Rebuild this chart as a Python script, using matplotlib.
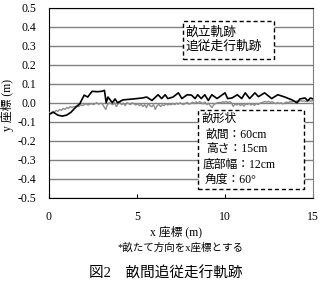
import numpy as np
import matplotlib
matplotlib.use("Agg")
import matplotlib.pyplot as plt
from matplotlib.patches import Rectangle

plt.rcParams['font.family'] = ['Liberation Serif', 'Noto Sans CJK JP']
plt.rcParams['axes.unicode_minus'] = False

# 畝立軌跡 (black)
ridge_x = [0.0, 0.25, 0.5, 0.75, 1.0, 1.25, 1.5, 1.75, 2.0, 2.2, 2.45, 2.75, 3.0, 3.15, 3.25,
           3.35, 3.6, 3.75, 3.9, 4.2, 4.8, 5.3, 5.55, 5.85, 6.2, 6.4, 6.6, 6.75, 7.05, 7.35,
           7.55, 7.85, 8.1, 8.3, 8.45, 8.65, 8.85, 9.05, 9.25, 9.55, 9.85, 10.0, 10.15, 10.4,
           10.7, 10.95, 11.15, 11.4, 11.7, 11.9, 12.25, 12.65, 13.0, 13.4, 13.8, 14.1, 14.25,
           14.55, 14.7, 14.85, 15.0]
ridge_y = [-0.06, -0.05, -0.065, -0.07, -0.065, -0.05, -0.025, -0.005, 0.04, 0.03, 0.06, 0.058,
           0.06, 0.065, 0.0, 0.03, 0.0, 0.02, 0.0, 0.015, 0.02, 0.025, 0.03, 0.012, 0.042, 0.022,
           0.042, 0.022, 0.03, 0.052, 0.022, 0.042, 0.04, 0.022, 0.042, 0.022, 0.042, 0.012, 0.042,
           0.022, 0.042, 0.052, 0.022, 0.025, 0.042, 0.022, 0.052, 0.022, 0.052, 0.032, 0.052, 0.022,
           0.042, 0.03, 0.015, 0.0, 0.02, 0.025, 0.01, 0.025, 0.02]

# 追従走行軌跡 (grey)
follow_y = [-0.05, -0.06, -0.045, -0.05, -0.04,
            -0.045, -0.035, -0.04, -0.03, -0.035, -0.025, -0.03, -0.02, -0.025, -0.02,
            -0.02, -0.015, -0.02, -0.01, -0.015, -0.01, -0.005, -0.012, -0.008, -0.004,
            -0.01, -0.005, 0.0, -0.008, -0.003,
            -0.005, -0.02, -0.035, -0.01, 0.0,
            -0.005, -0.01, 0.0, -0.02, -0.005, 0.002, -0.01, -0.003, -0.015, 0.0,
            -0.005, -0.01, 0.0, -0.006, -0.012,
            -0.005, -0.015, -0.008, -0.02, -0.01, -0.025, -0.005, -0.015, -0.02, -0.01,
            -0.035, -0.015, -0.008, -0.02, -0.01, -0.015, -0.005, -0.012, -0.008, -0.01,
            -0.005, -0.01, -0.002, -0.008, 0.0, -0.006, -0.01, -0.003, 0.002, -0.008,
            -0.004, 0.003, -0.005, 0.005, -0.002, 0.006, 0.0, -0.006, 0.004, -0.01,
            -0.002, -0.015, -0.025, -0.01, -0.005,
            0.0, 0.002, 0.0, 0.005, 0.003, 0.006, 0.002, 0.005, 0.0, -0.02,
            -0.005, -0.012, -0.004, -0.015, -0.006, -0.018, -0.005, -0.01, -0.003, -0.012,
            -0.006, -0.014, -0.004, -0.01, -0.002,
            0.0, 0.004, 0.006, 0.003, 0.007, 0.002, 0.005, 0.0, -0.005, 0.002,
            -0.004, 0.0, -0.006, -0.002, 0.004, 0.0, 0.006, 0.003, 0.008, 0.005,
            0.01, 0.006, 0.012, 0.008, 0.01, 0.006, 0.012, 0.01, 0.008, 0.012]
follow_x = np.linspace(0, 15, len(follow_y))

yticks = [0.5, 0.4, 0.3, 0.2, 0.1, 0.0, -0.1, -0.2, -0.3, -0.4, -0.5]
xticks = [0, 5, 10, 15]

W, H = 322, 284
fig = plt.figure(figsize=(W / 100, H / 100), dpi=100)
ax = fig.add_axes([49 / W, 1 - 198 / H, (313 - 49) / W, (198 - 7.5) / H])


def fx(px):
    return px / W


def fy(py):
    return 1 - py / H


ax.plot(follow_x, follow_y, color='#8c8c8c', lw=1.0, zorder=3)
ax.plot(ridge_x, ridge_y, color='black', lw=1.2, zorder=4)

ax.set_xlim(0, 15)
ax.set_ylim(-0.5, 0.5)
ax.set_yticks(yticks)
ax.set_yticklabels([f"{v:.1f}" for v in yticks], fontsize=8.5)
ax.set_xticks(xticks)
ax.set_xticklabels([str(v) for v in xticks], fontsize=8.5)
ax.tick_params(axis='y', length=0, pad=9)
ax.tick_params(axis='x', direction='in', length=3, pad=9)
ax.yaxis.grid(True, color='#808080', lw=1.0)
ax.set_axisbelow(True)
for s in ['left', 'bottom', 'top']:
    ax.spines[s].set_color('black')
ax.spines['right'].set_color('#808080')

fig.text(fx(8), fy(105), 'y 座標 (m)', rotation=90, ha='center', va='center', fontsize=8.5)
fig.text(fx(176), fy(232), 'x 座標 (m)', ha='center', va='center', fontsize=8.5)
fig.text(fx(180), fy(248), '*畝たて方向をx座標とする', ha='center', va='center', fontsize=7.6)
fig.text(fx(166), fy(273), '図2\u3000畝間追従走行軌跡', ha='center', va='center', fontsize=10.5)

# dashed boxes
for (x0, y0, x1, y1) in [(183, 21, 274, 59), (198, 110, 304, 189)]:
    r = Rectangle((fx(x0), fy(y1)), fx(x1) - fx(x0), fy(y0) - fy(y1), transform=fig.transFigure,
                  facecolor='white', edgecolor='black', lw=1.0, ls=(0, (3, 2)), zorder=5,
                  clip_on=False)
    ax.add_patch(r)

legend_lines = ['畝立軌跡', '追従走行軌跡']
for i, t in enumerate(legend_lines):
    ax.text(fx(186), fy(32 + 15 * i), t, transform=fig.transFigure, ha='left', va='center',
            fontsize=9.2, zorder=6)

spec_lines = ['畝形状', '畝間：60cm', '高さ：15cm', '底部幅：12cm', '角度：60°']
spec_x = [202, 206, 206, 203, 205]
for i, t in enumerate(spec_lines):
    ax.text(fx(spec_x[i]), fy(119 + 15.2 * i), t, transform=fig.transFigure, ha='left',
            va='center', fontsize=8.5, zorder=6)

fig.savefig('out.png', dpi=100)
